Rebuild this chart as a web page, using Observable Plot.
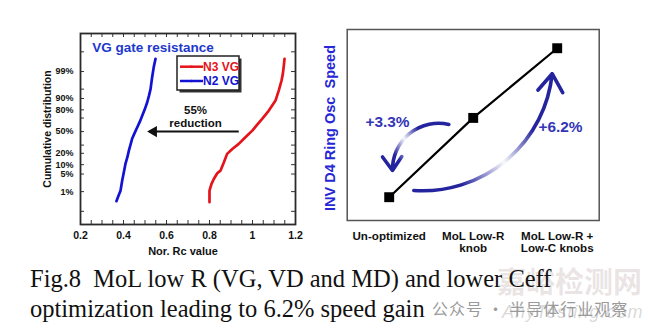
<!DOCTYPE html>
<html>
<head>
<meta charset="utf-8">
<script src="https://cdn.jsdelivr.net/npm/d3@7"></script>
<script src="https://cdn.jsdelivr.net/npm/@observablehq/plot@0.6"></script>
<style>
  html, body { margin: 0; padding: 0; background: #fff; }
  #wrap { position: relative; width: 650px; height: 329px; overflow: hidden; background: #fff; }
  #left { position: absolute; left: 0; top: 0; }
  #right { position: absolute; left: 310px; top: 0; }
  #legend { position: absolute; left: 176px; top: 55px; }
  #caption { position: absolute; left: 30px; top: 263.7px; font-family: "Liberation Serif", "Times New Roman", serif;
             font-size: 24.5px; line-height: 30px; white-space: pre; color: #111; }
  .wm { position: absolute; white-space: pre; }
</style>
</head>
<body>
<div id="wrap">
  <div id="left"></div>
  <div id="right"></div>
  <div id="legend"></div>
  <div class="wm" style="left:497px;top:259px;font-family:'Noto Sans CJK SC';font-weight:bold;font-size:29px;color:rgba(190,170,170,0.32);">嘉峪检测网</div>
  <div class="wm" style="left:502px;top:302px;font-family:'Liberation Sans';font-style:italic;font-size:18px;color:rgba(170,170,170,0.45);letter-spacing:1px;">AnyTesting.com</div>
  <div id="caption">Fig.8  MoL low R (VG, VD and MD) and lower Ceff
optimization leading to 6.2% speed gain</div>
  <div class="wm" style="left:432px;top:296px;font-family:'Noto Sans CJK SC';font-size:16px;letter-spacing:1px;color:#9a9a9a;">公众号 · 半导体行业观察</div>
</div>
<script>
// ---------------- data ----------------
// Left panel: cumulative distribution of normalized VG gate resistance
const n2Rc  = [0.367, 0.378, 0.386, 0.394, 0.402, 0.409, 0.418, 0.425, 0.433, 0.440, 0.452, 0.464, 0.476, 0.487, 0.498, 0.510, 0.518, 0.526, 0.533, 0.541, 0.549];
const n2Pct = [0.35, 0.7, 1.1, 2.9, 6, 10.5, 16, 23, 31, 39, 48, 56.6, 65, 73, 80, 87, 91.5, 95.1, 98.2, 99.4, 99.76];
const n3Rc  = [0.800, 0.800, 0.809, 0.820, 0.836, 0.851, 0.867, 0.882, 0.906, 0.936, 0.967, 0.999, 1.022, 1.045, 1.076, 1.107, 1.122, 1.135, 1.141, 1.146, 1.149];
const n3Pct = [0.31, 1.1, 2.1, 3.3, 5.3, 6.5, 11.7, 19.4, 25, 31.7, 41.3, 51.5, 60.5, 68.9, 79.2, 88.5, 94.4, 97.6, 98.7, 99.5, 99.76];
const seriesNames  = ["N3 VG", "N2 VG"];
const seriesColors = ["#e5131b", "#1212d4"];
const xTickValues  = [0.2, 0.4, 0.6, 0.8, 1.0, 1.2];
const xMinorTicks  = [0.2, 0.25, 0.3, 0.35, 0.4, 0.45, 0.5, 0.55, 0.6, 0.65, 0.7, 0.75, 0.8, 0.85, 0.9, 0.95, 1.0, 1.05, 1.1, 1.15, 1.2];
const yLabelPcts   = [1, 5, 10, 20, 50, 80, 90, 99];
const yMinorPcts   = [0.1, 1, 5, 10, 20, 30, 50, 70, 80, 90, 95, 99, 99.9];
// Right panel: ring oscillator speed gain (%)
const stages    = ["Un-optimized", "MoL Low-R\nknob", "MoL Low-R +\nLow-C knobs"];
const speedGain = [0, 3.3, 6.2];
const gainNotes = ["+3.3%", "+6.2%"];

// ---------------- helpers ----------------
// inverse standard normal CDF (probability axis), Acklam's approximation
function probit(p) {
  const a = [-3.969683028665376e+01, 2.209460984245205e+02, -2.759285104469687e+02, 1.383577518672690e+02, -3.066479806614716e+01, 2.506628277459239e+00];
  const b = [-5.447609879822406e+01, 1.615858368580409e+02, -1.556989798598866e+02, 6.680131188771972e+01, -1.328068155288572e+01];
  const c = [-7.784894002430293e-03, -3.223964580411365e-01, -2.400758277161838e+00, -2.549732539343734e+00, 4.374664141464968e+00, 2.938163982698783e+00];
  const d = [7.784695709041462e-03, 3.224671290700398e-01, 2.445134137142996e+00, 3.754408661907416e+00];
  const pl = 0.02425, ph = 1 - pl;
  let q, r;
  if (p < pl) { q = Math.sqrt(-2 * Math.log(p)); return (((((c[0]*q+c[1])*q+c[2])*q+c[3])*q+c[4])*q+c[5]) / ((((d[0]*q+d[1])*q+d[2])*q+d[3])*q+1); }
  if (p <= ph) { q = p - 0.5; r = q*q; return (((((a[0]*r+a[1])*r+a[2])*r+a[3])*r+a[4])*r+a[5])*q / (((((b[0]*r+b[1])*r+b[2])*r+b[3])*r+b[4])*r+1); }
  q = Math.sqrt(-2 * Math.log(1 - p)); return -(((((c[0]*q+c[1])*q+c[2])*q+c[3])*q+c[4])*q+c[5]) / ((((d[0]*q+d[1])*q+d[2])*q+d[3])*q+1);
}
const SANS = "'Liberation Sans', Arial, Helvetica, sans-serif";
const n2 = n2Rc.map((x, i) => ({x, z: probit(n2Pct[i] / 100)}));
const n3 = n3Rc.map((x, i) => ({x, z: probit(n3Pct[i] / 100)}));
const yLabelZ = yLabelPcts.map(p => probit(p / 100));
const yMinorZ = yMinorPcts.map(p => probit(p / 100));
const zLabel = new Map(yLabelZ.map((z, i) => [z, yLabelPcts[i] + "%"]));

// ---------------- left chart ----------------
const xDom = [0.2, 1.2], yDom = [-3.6, 3.8];
const tx = 4 * (xDom[1] - xDom[0]) / 215;   // 4px inward tick, in x units
const ty = 4 * (yDom[1] - yDom[0]) / 191;   // 4px inward tick, in y units
const left = Plot.plot({
  width: 310, height: 258,
  marginLeft: 80, marginRight: 15, marginTop: 33, marginBottom: 34,
  style: {fontFamily: SANS, fontWeight: "bold", fontSize: "10.5px", background: "transparent", overflow: "visible", color: "#111"},
  x: {domain: xDom, ticks: xTickValues, tickSize: 0, tickPadding: 7.5, label: null, tickFormat: d => String(+d.toFixed(1))},
  y: {domain: yDom, ticks: yLabelZ, tickSize: 0, tickPadding: 7, label: null, tickFormat: z => zLabel.get(z)},
  marks: [
    Plot.ruleX(xMinorTicks, {y1: yDom[0], y2: yDom[0] + ty, stroke: "#333"}),
    Plot.ruleX(xMinorTicks, {y1: yDom[1], y2: yDom[1] - ty, stroke: "#333"}),
    Plot.ruleY(yMinorZ, {x1: xDom[0], x2: xDom[0] + tx, stroke: "#333"}),
    Plot.ruleY(yMinorZ, {x1: xDom[1], x2: xDom[1] - tx, stroke: "#333"}),
    Plot.frame({stroke: "#2a2a2a", strokeWidth: 1.8}),
    Plot.line(n3, {x: "x", y: "z", stroke: seriesColors[0], strokeWidth: 2.7}),
    Plot.line(n2, {x: "x", y: "z", stroke: seriesColors[1], strokeWidth: 2.7}),
    Plot.text(["VG gate resistance"], {frameAnchor: "top-left", dx: 11.7, dy: 18, textAnchor: "start",
      lineAnchor: "bottom", fontSize: 13.5, fontWeight: "bold", fill: "#1d38cc"}),
    Plot.text(["Nor. Rc value"], {frameAnchor: "bottom", dx: -5, dy: 30, textAnchor: "middle", lineAnchor: "bottom",
      fontSize: 11, fontWeight: "bold"}),
    Plot.text(["Cumulative distribution"], {frameAnchor: "left", rotate: -90, dx: -33.3, textAnchor: "middle",
      lineAnchor: "middle", fontSize: 10.5, fontWeight: "bold"}),
    Plot.link([{x1: 0.936, x2: 0.52, z: 0}], {x1: "x1", x2: "x2", y1: "z", y2: "z", stroke: "#111", strokeWidth: 2}),
    Plot.dot([{x: 0.51, z: 0}], {x: "x", y: "z", symbol: "triangle", r: 4.2, rotate: -90, dx: 6.5, fill: "#111"}),
    Plot.text(["55%\nreduction"], {frameAnchor: "top-left", dx: 115, dy: 93.7, textAnchor: "middle", lineAnchor: "bottom",
      lineHeight: 1.19, fontSize: 11.5, fontWeight: "bold", fill: "#111"})
  ]
});
d3.select(left).selectAll("[aria-label='y-axis'] text, [aria-label='y-axis tick label'] text").attr("font-size", 9);
document.getElementById("left").append(left);

// legend (built from the series arrays)
const lg = d3.create("svg").attr("width", 70).attr("height", 42).style("font-family", SANS);
lg.append("rect").attr("x", 3.5).attr("y", 3.5).attr("width", 62).attr("height", 34).attr("fill", "#333");
lg.append("rect").attr("x", 1).attr("y", 1).attr("width", 62).attr("height", 34).attr("fill", "#fff").attr("stroke", "#222").attr("stroke-width", 1.5);
[0, 1].forEach(i => {
  const y = 11.7 + i * 14.3;
  lg.append("line").attr("x1", 4).attr("x2", 27).attr("y1", y).attr("y2", y).attr("stroke", seriesColors[i]).attr("stroke-width", 2.5);
  lg.append("circle").attr("cx", 15.5).attr("cy", y).attr("r", 1.3).attr("fill", seriesColors[i]);
  lg.append("text").attr("x", 27).attr("y", y + 4.2).attr("font-size", 12).attr("font-weight", "bold")
    .attr("fill", seriesColors[i]).text(seriesNames[i]);
});
document.getElementById("legend").append(lg.node());

// ---------------- right chart ----------------
const pts = speedGain.map((v, i) => ({i, v}));
const arcs = [
  {x1: 0.71, y1: 3.03, x2: 0.039, y2: 1.11, bend: -52},
  {x1: 0.293, y1: 0.28, x2: 1.94, y2: 5.14, bend: -44}
];
const right = Plot.plot({
  width: 340, height: 258,
  marginLeft: 36.7, marginRight: 51.3, marginTop: 29, marginBottom: 38,
  style: {fontFamily: SANS, fontWeight: "bold", fontSize: "11.6px", background: "transparent", overflow: "visible", color: "#111"},
  x: {domain: [-0.5, 2.5], ticks: pts.map(d => d.i), tickSize: 0, tickPadding: 11.5, label: null, tickFormat: i => stages[i]},
  y: {domain: [-0.97, 6.98], axis: null},
  marks: [
    Plot.frame({stroke: "#555", strokeWidth: 1.5}),
    Plot.text(["INV D4 Ring Osc\u00a0\u00a0Speed"], {frameAnchor: "left", rotate: -90, dx: -16.7, dy: 3,
      textAnchor: "middle", lineAnchor: "middle", fontSize: 14.5, fontWeight: "bold", fill: "#2626d6"}),
    Plot.arrow([arcs[0]], {x1: "x1", y1: "y1", x2: "x2", y2: "y2", bend: arcs[0].bend, stroke: "url(#gA)",
      strokeWidth: 3.6, headLength: 7, headAngle: 70}),
    Plot.arrow([arcs[1]], {x1: "x1", y1: "y1", x2: "x2", y2: "y2", bend: arcs[1].bend, stroke: "url(#gB)",
      strokeWidth: 3.6, headLength: 9, headAngle: 70}),
    Plot.line(pts, {x: "i", y: "v", stroke: "#000", strokeWidth: 2.2}),
    Plot.dot(pts, {x: "i", y: "v", symbol: "square", r: 5.6, fill: "#000"}),
    Plot.text([gainNotes[0]], {frameAnchor: "top-left", dx: 40.3, dy: 97.7, textAnchor: "middle", lineAnchor: "bottom",
      fontSize: 15.4, fontWeight: "bold", fill: "#3535b8"}),
    Plot.text([gainNotes[1]], {frameAnchor: "top-left", dx: 213.3, dy: 102.7, textAnchor: "middle", lineAnchor: "bottom",
      fontSize: 15.4, fontWeight: "bold", fill: "#3535b8"})
  ]
});
// gradients for the fading curved arrows, positioned with the chart's scales
{
  const sx = right.scale("x"), sy = right.scale("y");
  const defs = d3.select(right).insert("defs", ":first-child");
  const grad = (id, a, b, stops) => {
    const g = defs.append("linearGradient").attr("id", id).attr("gradientUnits", "userSpaceOnUse")
      .attr("x1", sx.apply(a[0])).attr("y1", sy.apply(a[1])).attr("x2", sx.apply(b[0])).attr("y2", sy.apply(b[1]));
    stops.forEach(([o, op]) => g.append("stop").attr("offset", o).attr("stop-color", "#24249e").attr("stop-opacity", op));
  };
  grad("gA", [0.039, 1.11], [0.71, 3.03], [[0, 1], [0.16, 1], [0.4, 0.04], [0.64, 1], [1, 1]]);
  grad("gB", [0.293, 0.28], [1.94, 5.14], [[0, 1], [0.22, 1], [0.48, 0.03], [0.72, 1], [1, 1]]);
}
d3.select(right).selectAll("[aria-label='x-axis'] text, [aria-label='x-axis tick label'] text").attr("font-size", 11.6);
document.getElementById("right").append(right);
</script>
</body>
</html>
